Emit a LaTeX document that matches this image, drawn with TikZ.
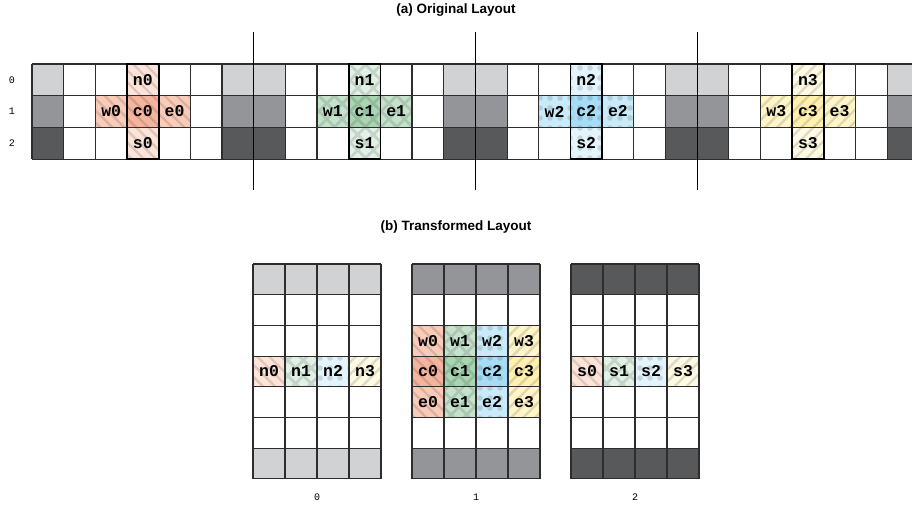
\documentclass[tikz,border=0pt]{standalone}
\usepackage{fontspec}
\setmainfont{Liberation Sans}
\newfontfamily\monofont{Liberation Mono}
\usetikzlibrary{patterns.meta,positioning}
\definecolor{gridgray}{RGB}{45,45,45}
\definecolor{halolight}{RGB}{209,210,212}
\definecolor{halomid}{RGB}{147,149,152}
\definecolor{halodark}{RGB}{88,89,91}
% block tints: c = strong, m = west/east, l = north/south
\definecolor{blk0c}{RGB}{245,180,158}
\definecolor{blk0m}{RGB}{249,203,184}
\definecolor{blk0l}{RGB}{253,227,216}
\definecolor{blk1c}{RGB}{168,213,178}
\definecolor{blk1m}{RGB}{197,227,204}
\definecolor{blk1l}{RGB}{225,241,229}
\definecolor{blk2c}{RGB}{166,220,246}
\definecolor{blk2m}{RGB}{201,234,249}
\definecolor{blk2l}{RGB}{227,244,252}
\definecolor{blk3c}{RGB}{255,240,176}
\definecolor{blk3m}{RGB}{255,245,200}
\definecolor{blk3l}{RGB}{255,250,227}
\tikzset{
  gridline/.style={gridgray, line width=1.1pt},
  colbox/.style={black, line width=1.7pt},
  divider/.style={black, line width=0.9pt},
  hatchA/.style={postaction={pattern={Lines[angle=-45,distance=8.5pt,line width=2.4pt]}, pattern color=black, opacity=0.12}},
  hatchB/.style={postaction={pattern={Hatch[angle=45,distance=11pt,line width=2.8pt]}, pattern color=black, opacity=0.12}},
  hatchC/.style={postaction={pattern={Dots[distance=10pt,radius=2.8pt]}, pattern color=black, opacity=0.12}},
  hatchD/.style={postaction={pattern={Lines[angle=45,distance=8.5pt,line width=2.4pt]}, pattern color=black, opacity=0.12}},
  celltext/.style={font=\monofont\bfseries\fontsize{16.5}{16.5}\selectfont, inner sep=0pt},
  title/.style={font=\bfseries\fontsize{13.5}{13.5}\selectfont},
  axislbl/.style={font=\monofont\fontsize{10}{10}\selectfont}
}
\def\cw{31.67}
\def\rh{31.7}
\def\bw{32}
\def\bh{30.7}

\begin{document}
\begin{tikzpicture}[x=1pt, y=-1pt]
\clip (0,0) rectangle (912,508);
\fill[white] (0,0) rectangle (912,508);

% (a) original layout
\node[title] (titleA) at (456,10) {(a) Original Layout};
\foreach \r in {0,1,2}
  \node[axislbl] (row\r) at (12,{64+(\r+0.5)*\rh}) {\r};

% halo columns
\foreach \s in {0,...,3}
  \foreach \k in {0,6}
    \foreach \r/\hc in {0/halolight,1/halomid,2/halodark}
      \fill[\hc] ({32+(7*\s+\k)*\cw},{64+\r*\rh}) rectangle ++(\cw,\rh);

% stencil blocks
\foreach \i/\pat in {0/hatchA,1/hatchB,2/hatchC,3/hatchD} {
  \pgfmathsetmacro\xc{32+(7*\i+3)*\cw}
  \fill[fill=blk\i m,\pat] (\xc-\cw,64+\rh) rectangle ++(\cw,\rh);
  \fill[fill=blk\i c,\pat] (\xc,64+\rh) rectangle ++(\cw,\rh);
  \fill[fill=blk\i m,\pat] (\xc+\cw,64+\rh) rectangle ++(\cw,\rh);
  \fill[fill=blk\i l,\pat] (\xc,64) rectangle ++(\cw,\rh);
  \fill[fill=blk\i l,\pat] (\xc,64+2*\rh) rectangle ++(\cw,\rh);
  \node[celltext] (o-w\i) at (\xc-0.5*\cw,64+1.5*\rh) {w\i};
  \node[celltext] (o-c\i) at (\xc+0.5*\cw,64+1.5*\rh) {c\i};
  \node[celltext] (o-e\i) at (\xc+1.5*\cw,64+1.5*\rh) {e\i};
  \node[celltext] (o-n\i) at (\xc+0.5*\cw,64+0.5*\rh) {n\i};
  \node[celltext] (o-s\i) at (\xc+0.5*\cw,64+2.5*\rh) {s\i};
}

% grid lines
\foreach \c in {0,...,28}
  \draw[gridline] ({32+\c*\cw},64) -- ++(0,3*\rh);
\foreach \r in {0,...,3}
  \draw[gridline] (32,{64+\r*\rh}) -- ++(28*\cw,0);
\foreach \i in {0,...,3}
  \draw[colbox] ({32+(7*\i+3)*\cw},64) rectangle ++(\cw,3*\rh);

% section dividers
\foreach \s in {1,2,3}
  \draw[divider] ({32+7*\s*\cw},32) -- ({32+7*\s*\cw},190);

% (b) transformed layout
\node[title] (titleB) at (456,227) {(b) Transformed Layout};

\foreach \g/\hc in {0/halolight,1/halomid,2/halodark} {
  \fill[\hc] ({253+159*\g},264) rectangle ++(4*\bw,\bh);
  \fill[\hc] ({253+159*\g},{264+6*\bh}) rectangle ++(4*\bw,\bh);
  \node[axislbl] (plane\g) at ({253+159*\g+2*\bw},497) {\g};
}

\foreach \j/\pat in {0/hatchA,1/hatchB,2/hatchC,3/hatchD} {
  % plane 0: north
  \fill[fill=blk\j l,\pat] ({253+\j*\bw},{264+3*\bh}) rectangle ++(\bw,\bh);
  \node[celltext] (t-n\j) at ({253+(\j+0.5)*\bw},{264+3.5*\bh}) {n\j};
  % plane 1: west, centre, east
  \fill[fill=blk\j m,\pat] ({412+\j*\bw},{264+2*\bh}) rectangle ++(\bw,\bh);
  \fill[fill=blk\j c,\pat] ({412+\j*\bw},{264+3*\bh}) rectangle ++(\bw,\bh);
  \fill[fill=blk\j m,\pat] ({412+\j*\bw},{264+4*\bh}) rectangle ++(\bw,\bh);
  \node[celltext] (t-w\j) at ({412+(\j+0.5)*\bw},{264+2.5*\bh}) {w\j};
  \node[celltext] (t-c\j) at ({412+(\j+0.5)*\bw},{264+3.5*\bh}) {c\j};
  \node[celltext] (t-e\j) at ({412+(\j+0.5)*\bw},{264+4.5*\bh}) {e\j};
  % plane 2: south
  \fill[fill=blk\j l,\pat] ({571+\j*\bw},{264+3*\bh}) rectangle ++(\bw,\bh);
  \node[celltext] (t-s\j) at ({571+(\j+0.5)*\bw},{264+3.5*\bh}) {s\j};
}

\foreach \g in {0,1,2} {
  \foreach \c in {0,...,4}
    \draw[gridline] ({253+159*\g+\c*\bw},264) -- ++(0,7*\bh);
  \foreach \r in {0,...,7}
    \draw[gridline] ({253+159*\g},{264+\r*\bh}) -- ++(4*\bw,0);
}
\end{tikzpicture}
\end{document}
